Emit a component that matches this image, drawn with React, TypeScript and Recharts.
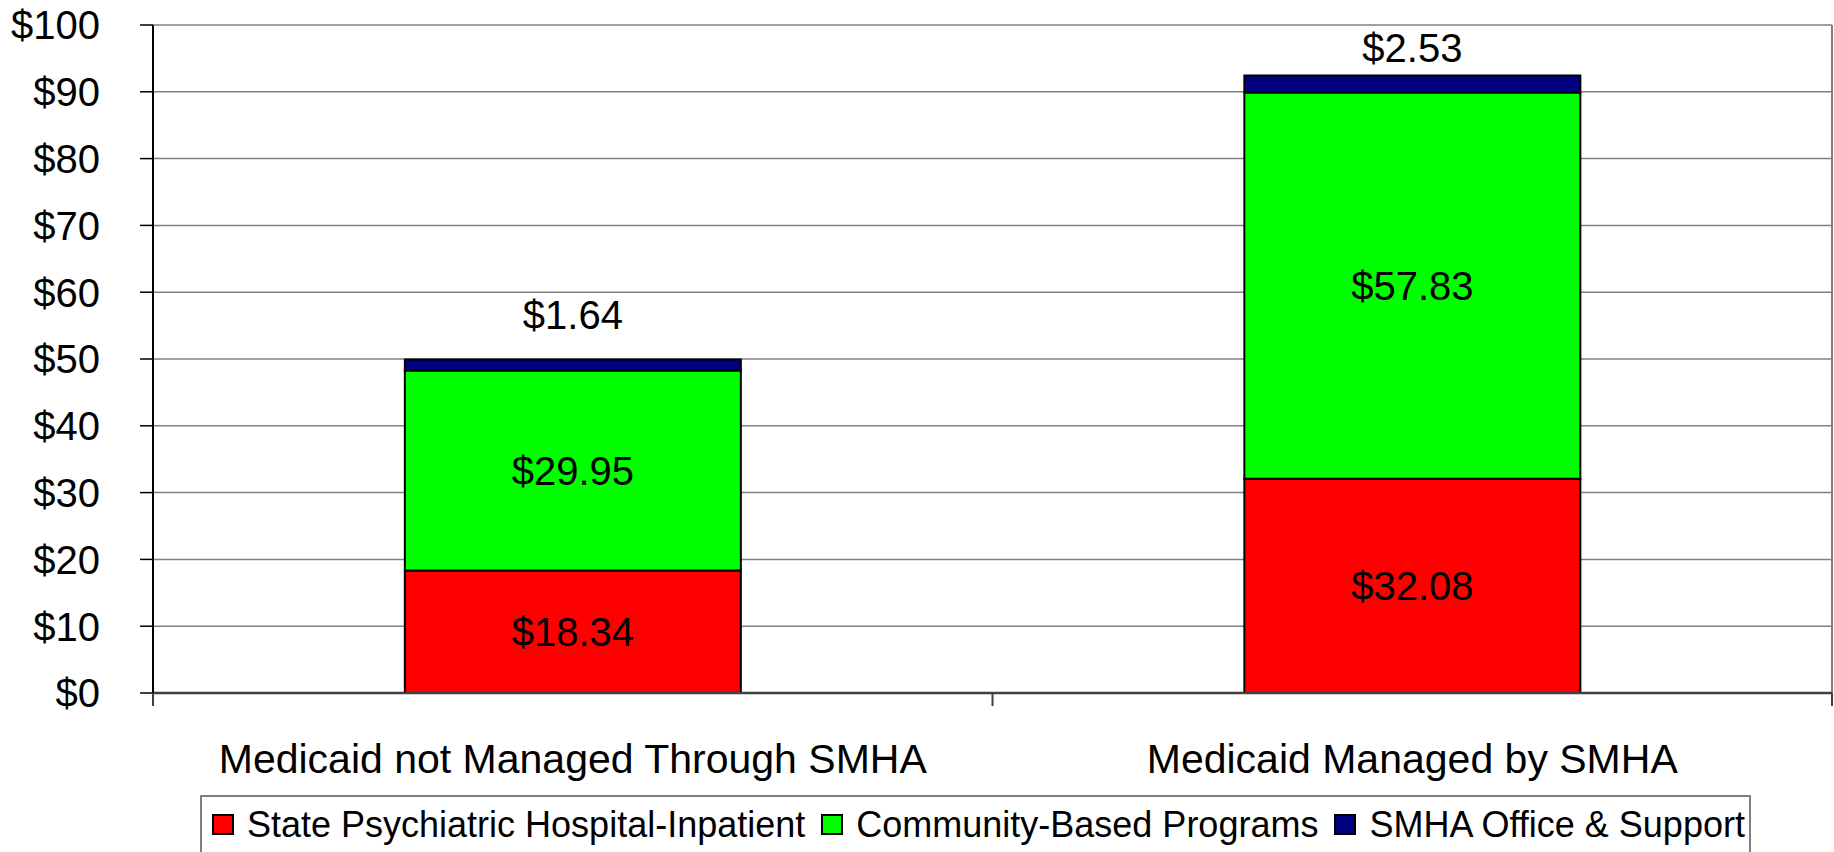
import React from "react";
import { BarChart, Bar, XAxis, YAxis, CartesianGrid, LabelList, Legend } from "recharts";

const categories = ["Medicaid not Managed Through SMHA", "Medicaid Managed by SMHA"];
const inpatientValues = [18.34, 32.08];
const communityValues = [29.95, 57.83];
const officeValues = [1.64, 2.53];
const yTicks = [0, 10, 20, 30, 40, 50, 60, 70, 80, 90, 100];
const seriesNames = ["State Psychiatric Hospital-Inpatient", "Community-Based Programs", "SMHA Office & Support"];
const seriesColors = ["#FF0000", "#00FF00", "#000080"];
const topLabelLift = [45, 28];

const data = categories.map((c, i) => ({
  name: c,
  inpatient: inpatientValues[i],
  community: communityValues[i],
  office: officeValues[i],
}));

const FONT = "'Liberation Sans', Arial, sans-serif";
const fmt = (v: any) => `$${Number(v).toFixed(2)}`;

const XTick = (props: any) => {
  const { x, y, payload } = props;
  const off = payload && payload.offset != null ? payload.offset : 0;
  const last = payload.index === categories.length - 1;
  return (
    <g>
      <line x1={x - off} y1={y} x2={x - off} y2={y + 13} stroke="#404040" strokeWidth={2} />
      {last && <line x1={x + off} y1={y} x2={x + off} y2={y + 13} stroke="#404040" strokeWidth={2} />}
      <text x={x} y={y + 80} textAnchor="middle" fontSize={41} fontFamily={FONT} fill="#000">
        {payload.value}
      </text>
    </g>
  );
};

const YTick = (props: any) => {
  const { x, y, payload } = props;
  return (
    <text x={x} y={y} dy="0.36em" textAnchor="end" fontSize={40} fontFamily={FONT} fill="#000">
      {`$${payload.value}`}
    </text>
  );
};

const TopLabel = (props: any) => {
  const { x, y, width, value, index } = props;
  return (
    <text
      x={Number(x) + Number(width) / 2}
      y={Number(y) - topLabelLift[index]}
      dy="0.36em"
      textAnchor="middle"
      fontSize={40}
      fontFamily={FONT}
      fill="#000"
    >
      {fmt(value)}
    </text>
  );
};

const LegendBox = () => (
  <div
    style={{
      boxSizing: "border-box",
      width: 1551,
      height: 57,
      borderTop: "2px solid #808080",
      borderLeft: "2px solid #808080",
      borderRight: "2px solid #808080",
      display: "flex",
      alignItems: "center",
      paddingLeft: 10,
      fontFamily: FONT,
      fontSize: 36,
      color: "#000",
      whiteSpace: "nowrap",
    }}
  >
    {seriesNames.map((n, i) => (
      <div key={n} style={{ display: "flex", alignItems: "center", marginRight: 16 }}>
        <span
          style={{
            display: "inline-block",
            boxSizing: "border-box",
            width: 22,
            height: 21,
            background: seriesColors[i],
            border: "2px solid #000",
            marginRight: 13,
          }}
        />
        <span style={{ lineHeight: "40px" }}>{n}</span>
      </div>
    ))}
  </div>
);

export default function App() {
  return (
    <div style={{ position: "absolute", left: 0, top: 0, background: "#fff" }}>
      <BarChart
        width={1834}
        height={852}
        data={data}
        margin={{ top: 25, right: 2, left: 0, bottom: 0 }}
        barCategoryGap="30%"
      >
        <CartesianGrid vertical={false} stroke="#808080" strokeWidth={1.5} />
        <CartesianGrid
          horizontal={false}
          stroke="#808080"
          strokeWidth={2}
          verticalCoordinatesGenerator={({ offset }: any) => [offset.left + offset.width]}
        />
        <XAxis
          dataKey="name"
          height={102}
          tickSize={0}
          tickMargin={0}
          tickLine={false}
          axisLine={{ stroke: "#404040", strokeWidth: 2.5 }}
          tick={<XTick />}
          interval={0}
        />
        <YAxis
          width={153}
          domain={[0, 100]}
          ticks={yTicks}
          interval={0}
          tickSize={13}
          tickMargin={40}
          tickLine={{ stroke: "#000", strokeWidth: 1.5 }}
          axisLine={{ stroke: "#000", strokeWidth: 2 }}
          tick={<YTick />}
        />
        <Legend
          verticalAlign="bottom"
          content={<LegendBox />}
          wrapperStyle={{ left: 200, top: 795, bottom: "auto", width: 1551, height: 57 }}
        />
        <Bar dataKey="inpatient" name={seriesNames[0]} stackId="a" fill={seriesColors[0]} stroke="#000" strokeWidth={2} isAnimationActive={false}>
          <LabelList dataKey="inpatient" position="center" formatter={fmt} fontSize={40} fontFamily={FONT} fill="#000" />
        </Bar>
        <Bar dataKey="community" name={seriesNames[1]} stackId="a" fill={seriesColors[1]} stroke="#000" strokeWidth={2} isAnimationActive={false}>
          <LabelList dataKey="community" position="center" formatter={fmt} fontSize={40} fontFamily={FONT} fill="#000" />
        </Bar>
        <Bar dataKey="office" name={seriesNames[2]} stackId="a" fill={seriesColors[2]} stroke="#000" strokeWidth={2} isAnimationActive={false}>
          <LabelList dataKey="office" content={<TopLabel />} />
        </Bar>
      </BarChart>
    </div>
  );
}
